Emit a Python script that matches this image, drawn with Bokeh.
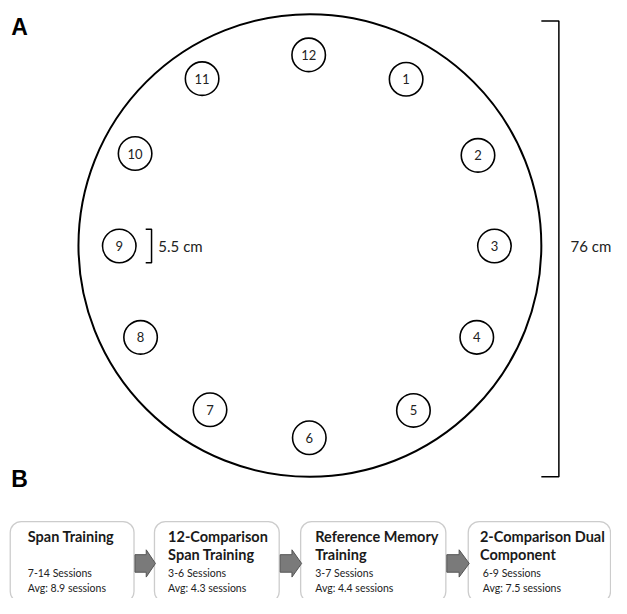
from bokeh.plotting import figure
from bokeh.models import BoxAnnotation, Label, ColumnDataSource
from bokeh.core.properties import value
from bokeh.embed import file_html
from bokeh.resources import INLINE

# ---------------- data ----------------
# Stone locations (cm, relative to arena centre), arena diameter 76 cm, stone diameter 5.5 cm
stone_labels = ["12", "1", "2", "3", "4", "5", "6", "7", "8", "9", "10", "11"]
stone_x = [-0.2, 15.8, 27.6, 30.3, 27.4, 17.0, -0.1, -16.4, -27.8, -31.3, -28.7, -17.7]
stone_y = [31.3, 27.3, 14.8, -0.1, -15.1, -27.1, -31.6, -27.0, -15.1, -0.1, 15.1, 27.4]
arena_diameter_cm = 76
stone_diameter_cm = 5.5

stage_titles = [["Span Training"],
                ["12-Comparison", "Span Training"],
                ["Reference Memory", "Training"],
                ["2-Comparison Dual", "Component"]]
session_min = [7, 3, 3, 6]
session_max = [14, 6, 7, 9]
session_avg = [8.9, 4.3, 4.4, 7.5]

# ---------------- layout helpers (reference pixels -> cm) ----------------
S = 6.25
CX, CY = 317.5, 251.5


def X(px):
    return (px - CX) / S


def Y(py):
    return (CY - py) / S


W, H = 611, 598
p = figure(width=W, height=H, output_backend="svg", toolbar_location=None,
           x_range=(X(0), X(627)), y_range=(Y(614), Y(0)),
           min_border=0, outline_line_color=None)
p.axis.visible = False
p.grid.visible = False
p.background_fill_color = "white"

FONT = "Lato"

# arena
p.circle(x=[0], y=[0], radius=arena_diameter_cm / 2, fill_color=None,
         line_color="black", line_width=2)

# stones
src = ColumnDataSource(dict(x=stone_x, y=stone_y, t=stone_labels))
p.circle(x="x", y="y", radius=stone_diameter_cm / 2, source=src,
         fill_color="white", line_color="black", line_width=1.6)
p.text(x="x", y="y", text="t", source=src, text_font=value(FONT),
       text_font_size="13px", text_align="center", text_baseline="middle",
       text_color="#222")

# 5.5 cm bracket next to stone 9
i9 = stone_labels.index("9")
bx = X(155)
half = stone_diameter_cm / 2
p.line(x=[X(149), bx, bx, X(149)],
       y=[stone_y[i9] + half, stone_y[i9] + half, stone_y[i9] - half, stone_y[i9] - half],
       line_color="black", line_width=1.5)
p.add_layout(Label(x=X(162), y=stone_y[i9], text=f"{stone_diameter_cm} cm",
                   text_font=FONT, text_font_size="15px", text_baseline="middle",
                   text_color="#222"))

# 76 cm bracket
Bx = X(573)
p.line(x=[X(555), Bx, Bx, X(555)], y=[Y(21), Y(21), Y(489), Y(489)],
       line_color="black", line_width=1.5)
p.add_layout(Label(x=X(585), y=Y(252), text=f"{arena_diameter_cm} cm",
                   text_font=FONT, text_font_size="15px", text_baseline="middle",
                   text_color="#222"))

# panel letters
for letter, py in [("A", 27), ("B", 491)]:
    p.add_layout(Label(x=X(11), y=Y(py), text=letter, text_font="Liberation Sans",
                       text_font_style="bold", text_font_size="23px",
                       text_baseline="middle", text_color="black"))

# ---------------- panel B boxes ----------------
box_left = [10, 158, 308, 480]
box_right = [137, 286, 457, 626]
box_top, box_bottom = 535, 618
title_dx = [18, 14, 15, 12]
sess_dx = [18, 14, 15, 15]

for i in range(4):
    p.add_layout(BoxAnnotation(left=X(box_left[i]), right=X(box_right[i]),
                               top=Y(box_top), bottom=Y(box_bottom),
                               fill_color="white", fill_alpha=1,
                               line_color="#555555", line_width=1.3,
                               border_radius=11, level="underlay"))
    for j, line in enumerate(stage_titles[i]):
        p.add_layout(Label(x=X(box_left[i] + title_dx[i]), y=Y(550 + 19 * j), text=line,
                           text_font=FONT, text_font_style="bold", text_font_size="14.5px",
                           text_baseline="middle", text_color="#1a1a1a"))
    p.add_layout(Label(x=X(box_left[i] + sess_dx[i]), y=Y(588),
                       text=f"{session_min[i]}-{session_max[i]} Sessions",
                       text_font=FONT, text_font_size="10.5px",
                       text_baseline="middle", text_color="#222"))
    p.add_layout(Label(x=X(box_left[i] + sess_dx[i]), y=Y(603),
                       text=f"Avg: {session_avg[i]} sessions",
                       text_font=FONT, text_font_size="10.5px",
                       text_baseline="middle", text_color="#222"))

# block arrows between boxes
ay = 578
for i in range(3):
    r, l = box_right[i] + 1, box_left[i + 1] + 1
    m = r + 0.55 * (l - r)
    xs = [r, m, m, l, m, m, r]
    ys = [ay - 9, ay - 9, ay - 14, ay, ay + 14, ay + 9, ay + 9]
    p.patch(x=[X(v) for v in xs], y=[Y(v) for v in ys],
            fill_color="#7a7a7a", line_color="#555555", line_width=1)

open("out.html", "w").write(file_html(p, INLINE))
